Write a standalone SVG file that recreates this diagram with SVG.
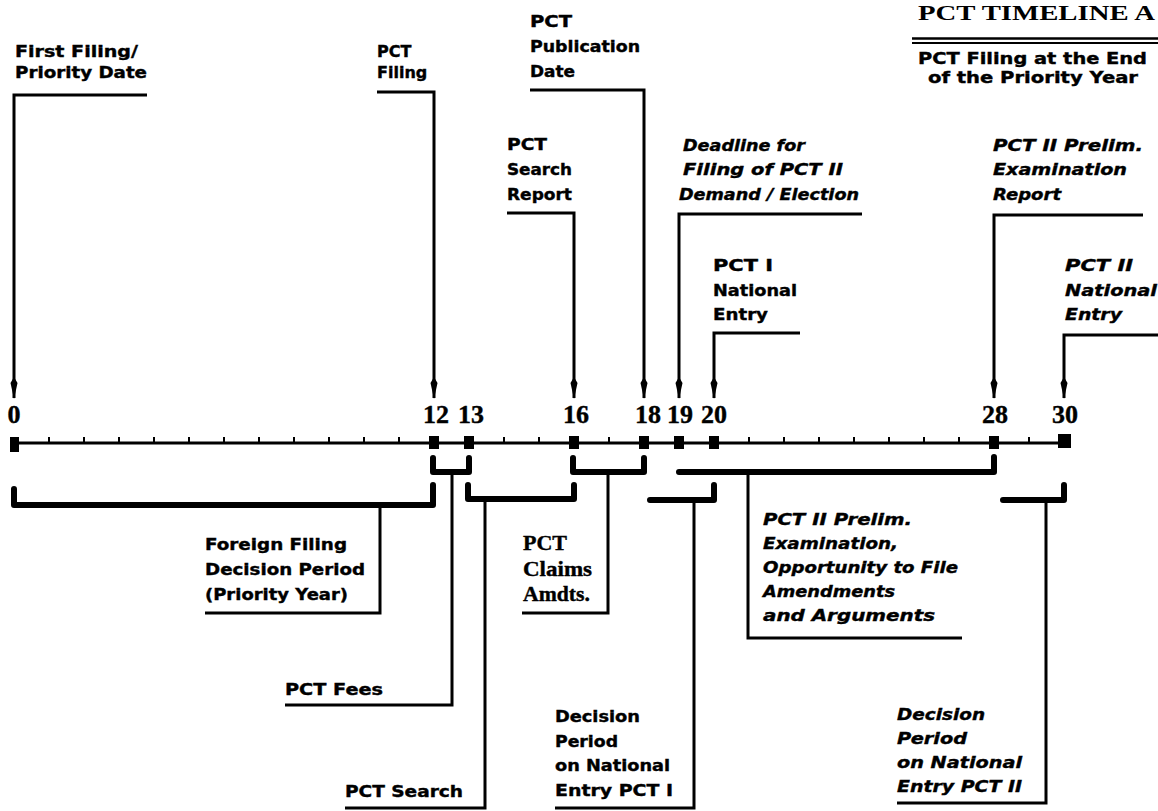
<svg xmlns="http://www.w3.org/2000/svg" width="1158" height="811" viewBox="0 0 1158 811">
<style>
text{fill:#000}
.sb{font-family:"DejaVu Sans","Liberation Sans",sans-serif;font-weight:bold;font-size:16px;stroke:#000;stroke-width:0.4}
.si{font-family:"DejaVu Sans","Liberation Sans",sans-serif;font-weight:bold;font-style:italic;font-size:16px;stroke:#000;stroke-width:0.4}
.ser{font-family:"Liberation Serif",serif;font-weight:bold;font-size:22px;stroke:#000;stroke-width:0.4}
.num{font-family:"Liberation Serif",serif;font-weight:bold;font-size:26px;text-anchor:middle;stroke:#000;stroke-width:0.4}
.title{font-family:"Liberation Serif",serif;font-weight:bold;font-size:22px}
.lead{fill:none;stroke:#000;stroke-width:3;stroke-linejoin:miter}
.brk{fill:none;stroke:#000;stroke-width:6;stroke-linejoin:round;stroke-linecap:round}
.axis{stroke:#000;stroke-width:3}
.tick{stroke:#000;stroke-width:2}
</style>
<defs>
<marker id="arr" viewBox="0 0 22 8" refX="21" refY="4" markerWidth="22" markerHeight="8" markerUnits="userSpaceOnUse" orient="auto">
<path d="M0,4 L6,0.5 L22,4 L6,7.5 z" fill="#000"/>
</marker>
</defs>
<rect width="1158" height="811" fill="#fff"/>

<g id="title">
<text class="title" x="918" y="20" textLength="237" lengthAdjust="spacingAndGlyphs">PCT TIMELINE A</text>
<line x1="912" y1="38.5" x2="1158" y2="38.5" stroke="#000" stroke-width="2.5"/>
<line x1="912" y1="43" x2="1158" y2="43" stroke="#000" stroke-width="2"/>
<text class="sb" x="918" y="64" textLength="229" lengthAdjust="spacingAndGlyphs">PCT Filing at the End</text>
<text class="sb" x="928" y="83" textLength="210" lengthAdjust="spacingAndGlyphs">of the Priority Year</text>
</g>

<g id="axis">
<line class="axis" x1="14" y1="443" x2="1064" y2="443"/>
<g class="tick">
<line x1="49" y1="437" x2="49" y2="443"/><line x1="84" y1="437" x2="84" y2="443"/><line x1="119" y1="437" x2="119" y2="443"/><line x1="154" y1="437" x2="154" y2="443"/><line x1="189" y1="437" x2="189" y2="443"/><line x1="224" y1="437" x2="224" y2="443"/><line x1="259" y1="437" x2="259" y2="443"/><line x1="294" y1="437" x2="294" y2="443"/><line x1="329" y1="437" x2="329" y2="443"/><line x1="364" y1="437" x2="364" y2="443"/><line x1="399" y1="437" x2="399" y2="443"/>
<line x1="504" y1="437" x2="504" y2="443"/><line x1="539" y1="437" x2="539" y2="443"/><line x1="609" y1="437" x2="609" y2="443"/>
<line x1="749" y1="437" x2="749" y2="443"/><line x1="784" y1="437" x2="784" y2="443"/><line x1="819" y1="437" x2="819" y2="443"/><line x1="854" y1="437" x2="854" y2="443"/><line x1="889" y1="437" x2="889" y2="443"/><line x1="924" y1="437" x2="924" y2="443"/><line x1="959" y1="437" x2="959" y2="443"/><line x1="1029" y1="437" x2="1029" y2="443"/>
</g>
<rect x="10" y="437" width="9" height="15" fill="#000"/>
<rect x="1058" y="434" width="13" height="14" fill="#000"/>
<rect x="429" y="436" width="10" height="13" fill="#000"/>
<rect x="464" y="436" width="10" height="13" fill="#000"/>
<rect x="569" y="436" width="10" height="13" fill="#000"/>
<rect x="639" y="436" width="10" height="13" fill="#000"/>
<rect x="674" y="436" width="10" height="13" fill="#000"/>
<rect x="709" y="436" width="10" height="13" fill="#000"/>
<rect x="989" y="436" width="10" height="13" fill="#000"/>
<text class="num" x="14" y="423">0</text>
<text class="num" x="436" y="423">12</text>
<text class="num" x="471" y="423">13</text>
<text class="num" x="576" y="423">16</text>
<text class="num" x="648" y="423">18</text>
<text class="num" x="680" y="423">19</text>
<text class="num" x="714" y="423">20</text>
<text class="num" x="995" y="423">28</text>
<text class="num" x="1065" y="423">30</text>
</g>

<g id="n-first-filing">
<text class="sb" x="15" y="57" textLength="123" lengthAdjust="spacingAndGlyphs">First Filing/</text>
<text class="sb" x="15" y="78" textLength="132" lengthAdjust="spacingAndGlyphs">Priority Date</text>
</g>
<g id="n-pct-filing">
<text class="sb" x="377" y="57">PCT</text>
<text class="sb" x="377" y="78">Filing</text>
</g>
<g id="n-publication">
<text class="sb" x="530" y="27" textLength="42" lengthAdjust="spacingAndGlyphs">PCT</text>
<text class="sb" x="530" y="52" textLength="110" lengthAdjust="spacingAndGlyphs">Publication</text>
<text class="sb" x="530" y="77" textLength="45" lengthAdjust="spacingAndGlyphs">Date</text>
</g>
<g id="n-search-report">
<text class="sb" x="507" y="150" textLength="40" lengthAdjust="spacingAndGlyphs">PCT</text>
<text class="sb" x="507" y="175" textLength="65" lengthAdjust="spacingAndGlyphs">Search</text>
<text class="sb" x="507" y="200" textLength="65" lengthAdjust="spacingAndGlyphs">Report</text>
</g>
<g id="n-deadline">
<text class="si" x="683" y="151" textLength="122" lengthAdjust="spacingAndGlyphs">Deadline for</text>
<text class="si" x="683" y="175" textLength="160" lengthAdjust="spacingAndGlyphs">Filing of PCT II</text>
<text class="si" x="679" y="200" textLength="180" lengthAdjust="spacingAndGlyphs">Demand / Election</text>
</g>
<g id="n-prelim-report">
<text class="si" x="993" y="151" textLength="150" lengthAdjust="spacingAndGlyphs">PCT II Prelim.</text>
<text class="si" x="993" y="175" textLength="134" lengthAdjust="spacingAndGlyphs">Examination</text>
<text class="si" x="993" y="200" textLength="68" lengthAdjust="spacingAndGlyphs">Report</text>
</g>
<g id="n-pct1-entry">
<text class="sb" x="713" y="271" textLength="60" lengthAdjust="spacingAndGlyphs">PCT I</text>
<text class="sb" x="713" y="296" textLength="84" lengthAdjust="spacingAndGlyphs">National</text>
<text class="sb" x="713" y="320" textLength="55" lengthAdjust="spacingAndGlyphs">Entry</text>
</g>
<g id="n-pct2-entry">
<text class="si" x="1065" y="271" textLength="68" lengthAdjust="spacingAndGlyphs">PCT II</text>
<text class="si" x="1065" y="296" textLength="92" lengthAdjust="spacingAndGlyphs">National</text>
<text class="si" x="1065" y="320" textLength="57" lengthAdjust="spacingAndGlyphs">Entry</text>
</g>

<g id="n-foreign">
<text class="sb" x="205" y="550" textLength="142" lengthAdjust="spacingAndGlyphs">Foreign Filing</text>
<text class="sb" x="205" y="575" textLength="160" lengthAdjust="spacingAndGlyphs">Decision Period</text>
<text class="sb" x="205" y="600" textLength="143" lengthAdjust="spacingAndGlyphs">(Priority Year)</text>
</g>
<g id="n-fees">
<text class="sb" x="285" y="695" textLength="98" lengthAdjust="spacingAndGlyphs">PCT Fees</text>
</g>
<g id="n-search">
<text class="sb" x="345" y="797" textLength="118" lengthAdjust="spacingAndGlyphs">PCT Search</text>
</g>
<g id="n-claims">
<text class="ser" x="523" y="550" textLength="44" lengthAdjust="spacingAndGlyphs">PCT</text>
<text class="ser" x="523" y="576" textLength="69" lengthAdjust="spacingAndGlyphs">Claims</text>
<text class="ser" x="523" y="601" textLength="67" lengthAdjust="spacingAndGlyphs">Amdts.</text>
</g>
<g id="n-decision1">
<text class="sb" x="555" y="722" textLength="85" lengthAdjust="spacingAndGlyphs">Decision</text>
<text class="sb" x="555" y="747" textLength="63" lengthAdjust="spacingAndGlyphs">Period</text>
<text class="sb" x="555" y="771" textLength="115" lengthAdjust="spacingAndGlyphs">on National</text>
<text class="sb" x="555" y="796" textLength="118" lengthAdjust="spacingAndGlyphs">Entry PCT I</text>
</g>
<g id="n-prelim-exam">
<text class="si" x="763" y="525" textLength="149" lengthAdjust="spacingAndGlyphs">PCT II Prelim.</text>
<text class="si" x="763" y="549" textLength="135" lengthAdjust="spacingAndGlyphs">Examination,</text>
<text class="si" x="763" y="573" textLength="195" lengthAdjust="spacingAndGlyphs">Opportunity to File</text>
<text class="si" x="763" y="597" textLength="132" lengthAdjust="spacingAndGlyphs">Amendments</text>
<text class="si" x="763" y="621" textLength="172" lengthAdjust="spacingAndGlyphs">and Arguments</text>
</g>
<g id="n-decision2">
<text class="si" x="897" y="720" textLength="88" lengthAdjust="spacingAndGlyphs">Decision</text>
<text class="si" x="897" y="744" textLength="70" lengthAdjust="spacingAndGlyphs">Period</text>
<text class="si" x="897" y="768" textLength="125" lengthAdjust="spacingAndGlyphs">on National</text>
<text class="si" x="897" y="792" textLength="125" lengthAdjust="spacingAndGlyphs">Entry PCT II</text>
</g>

<g id="connectors">
<path class="lead" d="M147,95 H14 V398" marker-end="url(#arr)"/>
<path class="lead" d="M377,92 H434 V398" marker-end="url(#arr)"/>
<path class="lead" d="M530,90 H644 V398" marker-end="url(#arr)"/>
<path class="lead" d="M507,213 H574 V398" marker-end="url(#arr)"/>
<path class="lead" d="M862,214 H679 V398" marker-end="url(#arr)"/>
<path class="lead" d="M1143,215 H994 V398" marker-end="url(#arr)"/>
<path class="lead" d="M800,333 H714 V398" marker-end="url(#arr)"/>
<path class="lead" d="M1158,335 H1064 V398" marker-end="url(#arr)"/>

<path class="brk" d="M14,489 V505 H433 V485"/>
<path class="brk" d="M433,458 V472 H469 V458"/>
<path class="brk" d="M468,485 V499 H574 V485"/>
<path class="brk" d="M573,458 V472 H644 V458"/>
<path class="brk" d="M650,500 H714 V485"/>
<path class="brk" d="M679,472 H994 V457"/>
<path class="brk" d="M1003,500 H1064 V485"/>

<path class="lead" d="M380,505 V613 H205"/>
<path class="lead" d="M452,472 V705 H285"/>
<path class="lead" d="M485,499 V808 H345"/>
<path class="lead" d="M608,472 V613 H522"/>
<path class="lead" d="M694,500 V808 H555"/>
<path class="lead" d="M748,472 V638 H962"/>
<path class="lead" d="M1046,500 V803 H897"/>
</g>
</svg>
